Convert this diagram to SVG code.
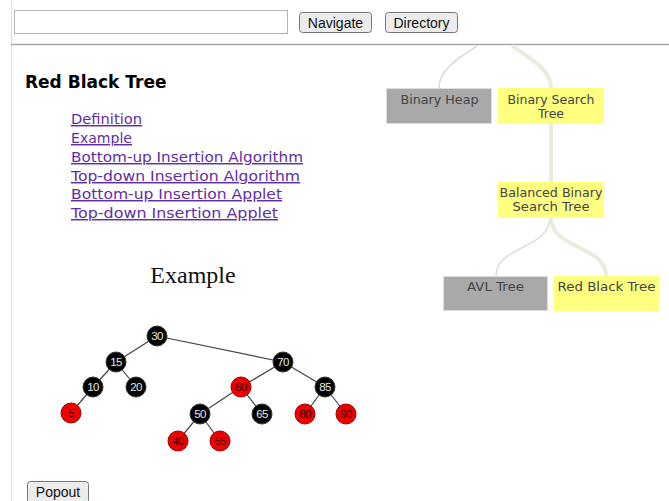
<svg xmlns="http://www.w3.org/2000/svg" width="669" height="501" viewBox="0 0 669 501">
<style>
.btn{fill:#ececec;stroke:#767676;stroke-width:1}
.btxt{font-family:"Liberation Sans",Arial,sans-serif;font-size:14px;fill:#111;text-anchor:middle}
.link{font-family:"DejaVu Sans",Verdana,sans-serif;font-size:14.5px;fill:#5f2ea6;text-decoration:underline}
.box{stroke:#dddddd;stroke-width:1}
.grey{fill:#a9a9a9}
.yel{fill:#ffff80;stroke:#ffff80}
.ntxt{font-family:"DejaVu Sans",Verdana,sans-serif;font-size:12.5px;fill:#444;text-anchor:middle}
.thin{fill:none;stroke:#dcdcd4;stroke-width:1.5}
.thick{fill:none;stroke:#ececdc;stroke-width:4}
.edge{stroke:#444;stroke-width:1.2}
.bn{fill:#000;stroke:#333;stroke-width:1}
.rn{fill:#ee0000;stroke:#990000;stroke-width:1}
.bt{font-family:"Liberation Sans",Arial,sans-serif;font-size:11.5px;fill:#e8e8e8;text-anchor:middle;letter-spacing:-0.6px}
.rt{font-family:"Liberation Sans",Arial,sans-serif;font-size:11.5px;fill:#3a0000;text-anchor:middle;letter-spacing:-0.6px}
</style>
<rect width="669" height="501" fill="#fff"/>
<!-- page frame -->
<line x1="11.5" y1="0" x2="11.5" y2="501" stroke="#dddddd" stroke-width="1"/>
<line x1="11" y1="44.5" x2="669" y2="44.5" stroke="#a8a8a8" stroke-width="1.5"/>
<!-- toolbar -->
<g id="search-input"><rect x="14.5" y="10.5" width="273" height="23" fill="#fff" stroke="#b4b4b4"/></g>
<g id="navigate-btn"><rect class="btn" x="299.5" y="12.5" width="72" height="20" rx="3"/><text class="btxt" x="335.5" y="28">Navigate</text></g>
<g id="directory-btn"><rect class="btn" x="385.5" y="12.5" width="72" height="20" rx="3"/><text class="btxt" x="421.5" y="28">Directory</text></g>
<!-- left content -->
<g id="title"><text x="25" y="88" font-family="'DejaVu Sans',Verdana,sans-serif" font-size="17" font-weight="bold" fill="#000">Red Black Tree</text></g>
<g id="links">
<text class="link" x="71" y="124" textLength="71" lengthAdjust="spacingAndGlyphs">Definition</text>
<text class="link" x="71" y="143" textLength="61" lengthAdjust="spacingAndGlyphs">Example</text>
<text class="link" x="71" y="162" textLength="232" lengthAdjust="spacingAndGlyphs">Bottom-up Insertion Algorithm</text>
<text class="link" x="71" y="181" textLength="229" lengthAdjust="spacingAndGlyphs">Top-down Insertion Algorithm</text>
<text class="link" x="71" y="199" textLength="211" lengthAdjust="spacingAndGlyphs">Bottom-up Insertion Applet</text>
<text class="link" x="71" y="218" textLength="207" lengthAdjust="spacingAndGlyphs">Top-down Insertion Applet</text>
</g>
<g id="example-title"><text x="193" y="283" font-family="'Liberation Serif','Times New Roman',serif" font-size="24" fill="#111" text-anchor="middle">Example</text></g>
<!-- tree edges -->
<g id="tree-edges">
<line class="edge" x1="157" y1="336" x2="116" y2="362"/>
<line class="edge" x1="157" y1="336" x2="283" y2="362"/>
<line class="edge" x1="116" y1="362" x2="93" y2="387"/>
<line class="edge" x1="116" y1="362" x2="136" y2="387"/>
<line class="edge" x1="93" y1="387" x2="71" y2="413"/>
<line class="edge" x1="283" y1="362" x2="241" y2="387"/>
<line class="edge" x1="283" y1="362" x2="325" y2="387"/>
<line class="edge" x1="241" y1="387" x2="200" y2="414"/>
<line class="edge" x1="241" y1="387" x2="262" y2="414"/>
<line class="edge" x1="325" y1="387" x2="305" y2="414"/>
<line class="edge" x1="325" y1="387" x2="346" y2="414"/>
<line class="edge" x1="200" y1="414" x2="178" y2="441"/>
<line class="edge" x1="200" y1="414" x2="220" y2="441"/>
</g>
<g id="n30"><circle class="bn" cx="157" cy="336" r="10"/><text class="bt" x="157" y="340">30</text></g>
<g id="n15"><circle class="bn" cx="116" cy="362" r="10"/><text class="bt" x="116" y="366">15</text></g>
<g id="n70"><circle class="bn" cx="283" cy="362" r="10"/><text class="bt" x="283" y="366">70</text></g>
<g id="n10"><circle class="bn" cx="93" cy="387" r="10"/><text class="bt" x="93" y="391">10</text></g>
<g id="n20"><circle class="bn" cx="136" cy="387" r="10"/><text class="bt" x="136" y="391">20</text></g>
<g id="n60"><circle class="rn" cx="241" cy="387" r="10"/><text class="rt" x="241" y="391">60</text></g>
<g id="n85"><circle class="bn" cx="325" cy="387" r="10"/><text class="bt" x="325" y="391">85</text></g>
<g id="n5"><circle class="rn" cx="71" cy="413" r="10"/><text class="rt" x="71" y="417">5</text></g>
<g id="n50"><circle class="bn" cx="200" cy="414" r="10"/><text class="bt" x="200" y="418">50</text></g>
<g id="n65"><circle class="bn" cx="262" cy="414" r="10"/><text class="bt" x="262" y="418">65</text></g>
<g id="n80"><circle class="rn" cx="305" cy="414" r="10"/><text class="rt" x="305" y="418">80</text></g>
<g id="n90"><circle class="rn" cx="346" cy="414" r="10"/><text class="rt" x="346" y="418">90</text></g>
<g id="n40"><circle class="rn" cx="178" cy="441" r="10"/><text class="rt" x="178" y="445">40</text></g>
<g id="n55"><circle class="rn" cx="220" cy="441" r="10"/><text class="rt" x="220" y="445">55</text></g>
<g id="popout-btn"><rect class="btn" x="27.5" y="481.5" width="61" height="22" rx="3"/><text class="btxt" x="58" y="497">Popout</text></g>
<!-- right hierarchy connectors -->
<g id="connectors">
<path class="thin" d="M477,46 C452,62 439,72 439,88"/>
<path class="thick" d="M512,46 C537,62 551,72 551,88"/>
<path class="thick" d="M551,123 L551,182"/>
<path class="thin" d="M550,217 C550,250 496,245 496,276"/>
<path class="thick" d="M551,217 C551,250 606,245 606,276"/>
</g>
<g id="binary-heap"><rect class="box grey" x="386.5" y="88.5" width="105" height="35"/><text class="ntxt" x="439.5" y="104" textLength="78" lengthAdjust="spacingAndGlyphs">Binary Heap</text></g>
<g id="bst"><rect class="yel" x="498.5" y="88.5" width="105" height="35"/><text class="ntxt" x="551" y="104" textLength="87" lengthAdjust="spacingAndGlyphs">Binary Search</text><text class="ntxt" x="551" y="118">Tree</text></g>
<g id="balanced-bst"><rect class="yel" x="498.5" y="182.5" width="105" height="35"/><text class="ntxt" x="551" y="197" textLength="103" lengthAdjust="spacingAndGlyphs">Balanced Binary</text><text class="ntxt" x="551" y="211" textLength="77" lengthAdjust="spacingAndGlyphs">Search Tree</text></g>
<g id="avl"><rect class="box grey" x="443.5" y="276.5" width="104" height="34"/><text class="ntxt" x="495.5" y="291" textLength="57" lengthAdjust="spacingAndGlyphs">AVL Tree</text></g>
<g id="rbt"><rect class="yel" x="554.5" y="276.5" width="104" height="34"/><text class="ntxt" x="606.5" y="291" textLength="98" lengthAdjust="spacingAndGlyphs">Red Black Tree</text></g>
</svg>
